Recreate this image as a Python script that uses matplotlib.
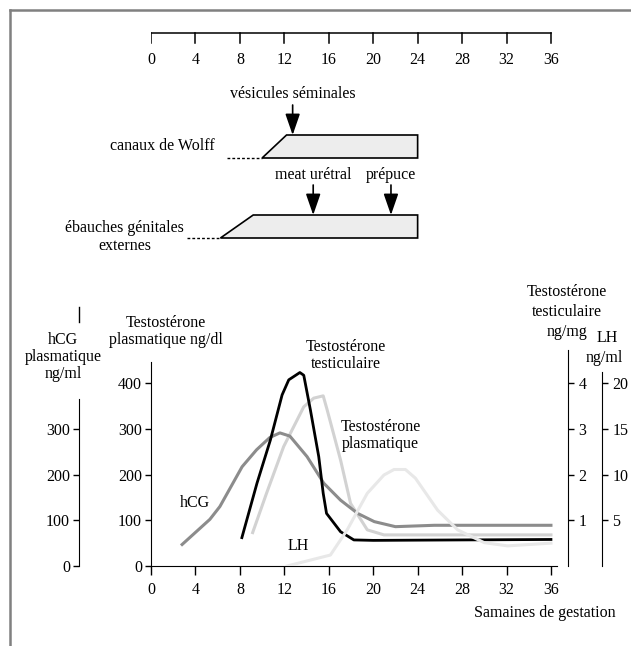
import matplotlib
matplotlib.use("Agg")
import matplotlib.pyplot as plt
from matplotlib.patches import Polygon
from matplotlib.lines import Line2D

plt.rcParams['font.family'] = ['Liberation Serif', 'DejaVu Serif']
plt.rcParams['font.size'] = 11.5

# --- data (weeks of gestation) ---
weeks_ticks = list(range(0, 37, 4))

hcg_x = [2.8, 5.3, 6.2, 8.2, 9.5, 10.7, 11.6, 12.5, 14.05, 15.55, 17.06, 18.6, 20.1, 22.0, 25.5, 36]
hcg_y = [47, 102, 130, 217, 254, 281, 291, 284, 239, 181, 144, 115, 97, 86, 89, 89]

testis_x = [8.18, 9.54, 10.74, 11.8, 12.4, 13.4, 13.75, 14.35, 15.1, 15.5, 15.8, 17.06, 18.26, 20, 36]
testis_y = [0.62, 1.81, 2.75, 3.74, 4.07, 4.23, 4.17, 3.41, 2.39, 1.59, 1.15, 0.75, 0.57, 0.56, 0.58]

plasma_x = [9.15, 10.4, 11.94, 13.75, 14.65, 15.5, 15.86, 17.06, 17.96, 19.47, 20.97, 24, 36]
plasma_y = [73, 159, 261, 348, 367, 372, 341, 232, 137, 79, 68, 68, 68]

lh_x = [12.25, 16.15, 17.66, 19.47, 20.97, 21.88, 22.9, 23.8, 25.8, 27.6, 30, 32.1, 36]
lh_y = [0, 1.2, 3.95, 7.95, 9.95, 10.55, 10.55, 9.6, 6.1, 3.95, 2.55, 2.2, 2.5]

# development bars: (dotted start, slant bottom, slant top, end)
wolff_bar = [6.8, 10.0, 12.2, 24.0]
genital_bar = [3.2, 6.25, 9.2, 24.0]
wolff_arrows = [12.75]
genital_arrows = [14.6, 21.6]

W, H = 631, 646
fig = plt.figure(figsize=(W / 100, H / 100), dpi=100)


def fx(px):
    return px / W


def fy(py):
    return 1 - py / H


# frame (left + top)
fig.add_artist(Line2D([fx(10), fx(10)], [fy(10), 0], color='#808080', lw=1.8))
fig.add_artist(Line2D([fx(10), 1], [fy(10), fy(10)], color='#808080', lw=1.8))

# ---------------- bottom chart ----------------
x0, x1 = 151, 556.5
y0, ytop = 566, 362
ymax = 446
ax = fig.add_axes([fx(x0), fy(y0), (x1 - x0) / W, (y0 - ytop) / H])
ax.set_xlim(0, 36.5)
ax.set_ylim(0, ymax)
ax.patch.set_visible(False)
for s in ['top', 'right']:
    ax.spines[s].set_visible(False)
ax.set_xticks(weeks_ticks)
ax.set_yticks([0, 100, 200, 300, 400])
ax.tick_params(axis='x', direction='out', length=6.5, width=1, pad=5)
ax.tick_params(axis='y', direction='out', length=4.5, width=1, pad=2)

# hCG axis (left, offset)
ax_h = ax.twinx()
ax_h.set_ylim(0, ymax)
ax_h.yaxis.set_ticks_position('left')
for s in ['top', 'right', 'bottom']:
    ax_h.spines[s].set_visible(False)
ax_h.spines['left'].set_position(('axes', (79 - x0) / (x1 - x0)))
ax_h.spines['left'].set_bounds(0, 365)
ax_h.set_yticks([0, 100, 200, 300])
ax_h.tick_params(axis='y', direction='out', length=4.5, width=1, pad=2)
fig.add_artist(Line2D([fx(79), fx(79)], [fy(307), fy(322)], color='k', lw=1))

# testosterone testiculaire axis (right)
ax_t = ax.twinx()
ax_t.set_ylim(0, ymax / 100)
for s in ['top', 'left', 'bottom']:
    ax_t.spines[s].set_visible(False)
ax_t.spines['right'].set_position(('axes', (568 - x0) / (x1 - x0)))
ax_t.spines['right'].set_bounds(0, 4.72)
ax_t.set_yticks([1, 2, 3, 4])
ax_t.tick_params(axis='y', direction='out', length=4.5, width=1, pad=3)

# LH axis (right, further out)
ax_l = ax.twinx()
ax_l.set_ylim(0, ymax / 20)
for s in ['top', 'left', 'bottom']:
    ax_l.spines[s].set_visible(False)
ax_l.spines['right'].set_position(('axes', (602 - x0) / (x1 - x0)))
ax_l.spines['right'].set_bounds(0, 21.2)
ax_l.set_yticks([5, 10, 15, 20])
ax_l.tick_params(axis='y', direction='out', length=4.5, width=1, pad=3)

ax_h.plot(hcg_x, hcg_y, color='#8c8c8c', lw=2.2, solid_joinstyle='round')
ax.plot(plasma_x, plasma_y, color='#d2d2d2', lw=2.2, solid_joinstyle='round')
ax_t.plot(testis_x, testis_y, color='black', lw=2.0, solid_joinstyle='round')
ax_l.plot(lh_x, lh_y, color='#e8e8e8', lw=2.2, solid_joinstyle='round')
ax_l.set_zorder(5)

# curve labels
ax.text(3.97, 138, 'hCG', ha='center', va='center')
ax.text(13.27, 44, 'LH', ha='center', va='center')
ax.text(17.5, 460, 'Testostérone\ntesticulaire', ha='center', va='center',
        linespacing=1.1, clip_on=False)
ax.text(20.67, 285, 'Testostérone\nplasmatique', ha='center', va='center', linespacing=1.1)

# axis titles
fig.text(fx(63), fy(357), 'hCG\nplasmatique\nng/ml', ha='center', va='center', linespacing=1.1)
fig.text(fx(166), fy(331.5), 'Testostérone\nplasmatique ng/dl', ha='center', va='center', linespacing=1.1)
# right title split in lines so it does not run into "LH"
for label, py in [('Testostérone', 292), ('testiculaire', 312), ('ng/mg', 332)]:
    fig.text(fx(567), fy(py), label, ha='center', va='center')
fig.text(fx(607), fy(338), 'LH', ha='center', va='center')
fig.text(fx(604), fy(358), 'ng/ml', ha='center', va='center')
fig.text(fx(616), fy(613), 'Samaines de gestation', ha='right', va='center')

# ---------------- top timeline ----------------
t_top, t_bot = 20, 260
axt = fig.add_axes([fx(x0), fy(t_bot), (x1 - x0) / W, (t_bot - t_top) / H])
axt.set_xlim(0, 36.5)
axt.set_ylim(t_bot, t_top)
axt.axis('off')

axt.plot([weeks_ticks[0], weeks_ticks[-1]], [33, 33], color='k', lw=1.1)
for w in weeks_ticks:
    axt.plot([w, w], [33, 43], color='k', lw=1.1)
    axt.text(w, 60, str(w), ha='center', va='center')


def draw_bar(bar, y_top, y_bot):
    dot0, b0, t0, end = bar
    poly = Polygon([(b0, y_bot), (t0, y_top), (end, y_top), (end, y_bot)],
                   closed=True, facecolor='#ededed', edgecolor='black', lw=1.2)
    axt.add_patch(poly)
    axt.plot([dot0, b0], [y_bot, y_bot], color='black', lw=1.0, linestyle=(0, (2, 1.5)))


def draw_arrows(xs, y_start, y_end):
    for x in xs:
        axt.annotate('', xy=(x, y_end), xytext=(x, y_start),
                     arrowprops=dict(arrowstyle='-|>,head_length=1.3,head_width=0.45',
                                     color='black', lw=1.2, shrinkA=0, shrinkB=0,
                                     mutation_scale=10))


draw_bar(wolff_bar, 135, 158)
draw_bar(genital_bar, 215, 238)
draw_arrows(wolff_arrows, 105, 135)
draw_arrows(genital_arrows, 185, 215)

axt.text(wolff_arrows[0], 94, 'vésicules séminales', ha='center', va='center')
axt.text(genital_arrows[0], 175, 'meat urétral', ha='center', va='center')
axt.text(genital_arrows[1], 175, 'prépuce', ha='center', va='center')
axt.text((215 - x0) / 11.08, 146, 'canaux de Wolff', ha='right', va='center')
axt.text((184 - x0) / 11.08, 237, 'ébauches génitales\nexternes', ha='right', va='center',
         multialignment='center', linespacing=1.1)

fig.savefig('out.png', dpi=100)
